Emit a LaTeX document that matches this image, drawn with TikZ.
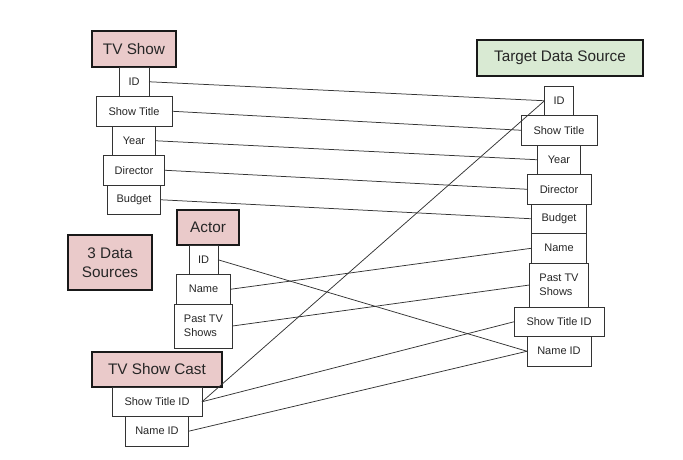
\documentclass[tikz,border=0pt]{standalone}
\usepackage{fontspec}
\setmainfont{Liberation Sans}
\usetikzlibrary{positioning}

\definecolor{srcpink}{HTML}{EACACA}
\definecolor{tgtgreen}{HTML}{D9EAD3}

\tikzset{
  header/.style={draw=black!90, line width=1.3pt, fill=srcpink, minimum height=35pt,
    inner sep=0pt, outer sep=0pt, font=\fontsize{15.3}{19}\selectfont, text=black!85},
  field/.style={draw=black!80, line width=0.8pt, fill=white, minimum height=29.5pt,
    inner sep=0pt, outer sep=0pt, font=\fontsize{11}{13.5}\selectfont, text=black!85},
  link/.style={draw=black!80, line width=0.75pt},
}

\begin{document}
\begin{tikzpicture}[x=1pt,y=-1pt]
        \useasboundingbox (0,0) rectangle (683,459);

        % TV Show source and its fields
        \node[header, minimum width=84pt, minimum height=36pt] (show) at (134,49) {TV Show};
        \node[field, minimum width=30pt, below=0pt of show] (showid) {ID};
        \node[field, minimum width=76pt, below=0pt of showid] (showtitle) {Show Title};
        \node[field, minimum width=43pt, below=0pt of showtitle] (showyear) {Year};
        \node[field, minimum width=61pt, below=0pt of showyear] (showdir) {Director};
        \node[field, minimum width=53pt, below=0pt of showdir] (showbudget) {Budget};

        % Label for the sources
        \node[header, minimum width=84pt, minimum height=55pt, align=center] (note) at (110,262.5) {3 Data\\Sources};

        % Actor source and its fields
        \node[header, minimum width=62pt] (actor) at (208,227.5) {Actor};
        \node[field, minimum width=29pt, below=0pt of actor, xshift=-4.5pt] (actorid) {ID};
        \node[field, minimum width=54pt, below=0pt of actorid] (actorname) {Name};
        \node[field, minimum width=58pt, minimum height=44pt, align=left, below=0pt of actorname] (actorpast) {Past TV\\Shows};

        % TV Show Cast source and its fields
        \node[header, minimum width=130pt] (cast) at (157,369.5) {TV Show Cast};
        \node[field, minimum width=90pt, below=0pt of cast] (castshow) {Show Title ID};
        \node[field, minimum width=63pt, below=0pt of castshow] (castname) {Name ID};

        % Target and its fields
        \node[header, fill=tgtgreen, minimum width=166pt, minimum height=36pt] (target) at (560,58) {Target Data Source};
        \node[field, minimum width=29pt, below=10pt of target, xshift=-1pt] (tid) {ID};
        \node[field, minimum width=76pt, below=0pt of tid] (ttitle) {Show Title};
        \node[field, minimum width=43pt, below=0pt of ttitle] (tyear) {Year};
        \node[field, minimum width=64pt, below=0pt of tyear] (tdir) {Director};
        \node[field, minimum width=55pt, below=0pt of tdir] (tbudget) {Budget};
        \node[field, minimum width=55pt, below=0pt of tbudget] (tname) {Name};
        \node[field, minimum width=59pt, minimum height=44pt, align=left, below=0pt of tname] (tpast) {Past TV\\Shows};
        \node[field, minimum width=90pt, below=0pt of tpast] (tshowid) {Show Title ID};
        \node[field, minimum width=64pt, below=0pt of tshowid] (tnameid) {Name ID};

        % Mappings from TV Show
        \draw[link] (showid.east) -- (tid.west);
        \draw[link] (showtitle.east) -- (ttitle.west);
        \draw[link] (showyear.east) -- (tyear.west);
        \draw[link] (showdir.east) -- (tdir.west);
        \draw[link] (showbudget.east) -- (tbudget.west);

        % Mappings from Actor
        \draw[link] (actorid.east) -- (tnameid.west);
        \draw[link] (actorname.east) -- (tname.west);
        \draw[link] (actorpast.east) -- (tpast.west);

        % Mappings from TV Show Cast
        \draw[link] (castshow.east) -- (tid.west);
        \draw[link] (castshow.east) -- (tshowid.west);
        \draw[link] (castname.east) -- (tnameid.west);
\end{tikzpicture}
\end{document}
